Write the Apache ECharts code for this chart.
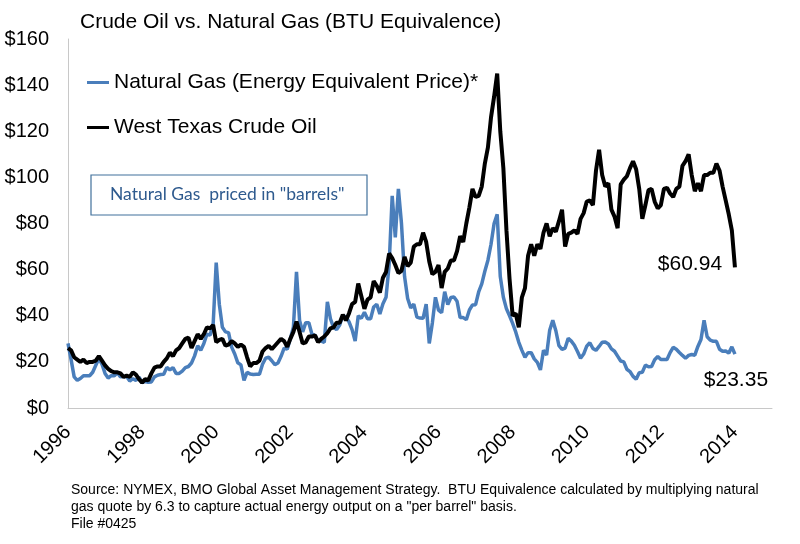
<!DOCTYPE html>
<html>
<head>
<meta charset="utf-8">
<script src="https://cdn.jsdelivr.net/npm/echarts@6/dist/echarts.min.js"></script>
<style>
html,body{margin:0;padding:0;background:#ffffff;}
#chart{width:800px;height:544px;}
</style>
</head>
<body>
<div id="chart"></div>
<script>
// Monthly values, index 0 = Dec 1996, then Jan 1997 ... Dec 2014
var wti = [26,
25, 22, 21, 20, 21, 19.5, 20, 20, 20.5, 22.5, 20.5, 18.5,
17, 16, 15.5, 15.5, 15, 13.5, 14, 13.5, 15.5, 14.5, 12.5, 11,
12.5, 12, 15, 17.5, 18, 18, 20, 21.5, 24, 22.5, 25, 26,
28, 30, 30.5, 26, 29, 32, 30, 32, 35, 34.5, 36, 28.5,
29.5, 30, 27, 27.5, 29, 28, 26.5, 27.5, 26.5, 22, 18, 19.5,
19.5, 20.5, 24.5, 26, 27, 25.5, 27, 28.5, 30, 29, 26.5, 30,
33, 37.5, 33, 28, 28.5, 31, 31, 31.5, 28.5, 30, 31, 32.5,
34.5, 35, 37, 37, 40.5, 38, 41, 45, 46, 54, 48.5, 43,
47, 48, 55, 53, 50, 56.5, 59, 67, 65, 62, 58.5, 59.5,
65.5, 61.5, 63, 70, 71, 71, 76, 72, 63.5, 58, 59, 62,
52, 59, 60.5, 64, 64, 68, 74.5, 72, 80, 87, 95, 91.5,
92, 96, 106, 113, 126, 135, 145, 120, 104, 77, 56, 40,
41, 35, 48, 52, 66, 71, 66, 71, 69, 76, 80, 74.5,
78, 76.5, 81, 86, 70, 75.5, 76, 77, 75.5, 82, 84.5, 89.5,
90, 88, 103, 112, 101, 96, 97.5, 86, 83, 78, 97, 99,
100.5, 104, 107, 103.5, 95, 82, 88, 94.5, 95, 89.5, 86.5, 88,
95, 95.5, 93, 91.5, 95, 96, 105, 107, 110, 101, 94, 97.5,
94, 101, 101, 102, 102, 106, 103, 96, 90, 84, 77, 60.94];

var gas = [28,
21, 13.5, 12, 12.8, 14, 14, 14, 15.5, 18.5, 21.5, 19, 15,
13, 14, 14, 15.3, 13.5, 13.7, 13.7, 11.7, 12.7, 12, 13.4, 11,
11.5, 11.2, 11.3, 13.5, 14.2, 14.5, 14.6, 17.6, 16.5, 17.5, 15, 15,
16, 17.5, 18, 19.5, 22.6, 27, 25, 28, 32, 31.6, 36, 63,
45, 35, 33, 32.7, 26.4, 23.4, 19.6, 18.7, 12, 15.5, 14.7, 14.5,
14.6, 14.6, 19, 21.6, 22, 20.5, 18.8, 19.5, 22.4, 26, 25.5, 30,
35, 59, 38, 33, 37, 37, 32, 31.5, 29, 29, 28.5, 46,
38.7, 35, 34, 36, 40, 39.5, 37.4, 34, 29, 40, 38.9, 41.5,
38.7, 38.7, 43.8, 45, 40.8, 45.2, 48, 62, 92, 74, 95, 80,
57, 47.5, 43.4, 45, 39.4, 39, 38.9, 45, 28, 36.9, 48, 42.4,
41.3, 50.4, 44.8, 47.9, 48.1, 46.3, 39.2, 39.2, 38.3, 42.5, 44.7, 44.8,
50.3, 53.8, 59.3, 64.1, 71, 80, 84, 57, 48, 43, 40, 36.7,
33, 28.5, 25, 22, 24, 24, 21.3, 19.8, 16.5, 25, 23, 33.7,
38, 33.5, 27, 25.4, 26, 30.2, 29, 27.2, 24.5, 21.6, 23.4, 26.8,
28.3, 25.8, 25, 26.7, 28.5, 28.6, 27.8, 25.6, 24.6, 22.5, 20.4, 20,
16.8, 15.8, 13.7, 12.5, 15.3, 15.5, 18.6, 17.9, 18, 20.9, 22.3, 21,
21, 21, 24, 26.3, 25.5, 24.1, 22.8, 21.6, 22.8, 23.2, 22.9, 26.7,
29.7, 38, 30.9, 29.4, 28.9, 28.9, 25.5, 24.6, 24.7, 23.8, 26.5, 23.35];

var yearLabels = ['1996','1998','2000','2002','2004','2006','2008','2010','2012','2014'];
var yTicks = [0, 20, 40, 60, 80, 100, 120, 140, 160];
var seriesNames = ['Natural Gas (Energy Equivalent Price)*', 'West Texas Crude Oil'];
var titleText = 'Crude Oil vs. Natural Gas (BTU Equivalence)';
var noteText = 'Natural Gas  priced in "barrels"';
var sourceLines = [
  'Source: NYMEX, BMO Global Asset Management Strategy.  BTU Equivalence calculated by multiplying natural',
  'gas quote by 6.3 to capture actual energy output on a "per barrel" basis.',
  'File #0425'
];

var FONT = 'Liberation Sans, Arial, sans-serif';
function pairs(arr){ return arr.map(function(v,i){ return [i, v]; }); }
var lastIdx = wti.length - 1;

var chart = echarts.init(document.getElementById('chart'), null, {renderer:'canvas'});
chart.setOption({
  animation: false,
  backgroundColor: '#ffffff',
  title: {
    text: titleText, left: 75, top: 7,
    textStyle: {fontFamily: FONT, fontSize: 21, fontWeight: 'normal', color: '#000'}
  },
  legend: {
    orient: 'vertical', left: 82, top: 67, itemGap: 24,
    icon: 'rect', itemWidth: 22, itemHeight: 3,
    textStyle: {fontFamily: FONT, fontSize: 21, color: '#000'},
    data: seriesNames
  },
  grid: {left: 68, right: 28, top: 39, bottom: 136, containLabel: false},
  xAxis: {
    type: 'value', min: 0, max: 228, interval: 24,
    axisLine: {show: true, lineStyle: {color: '#c8c8c8', width: 1}},
    axisTick: {show: false},
    splitLine: {show: false},
    axisLabel: {
      rotate: 45, margin: 21, fontFamily: FONT, fontSize: 20, color: '#000',
      formatter: function(v){ var k = v / 24; return (k === Math.round(k) && yearLabels[k]) ? yearLabels[k] : ''; }
    }
  },
  yAxis: {
    type: 'value', min: yTicks[0], max: yTicks[yTicks.length-1], interval: 20,
    axisLine: {show: true, lineStyle: {color: '#c8c8c8', width: 1}},
    axisTick: {show: false},
    splitLine: {show: false},
    axisLabel: {margin: 19, fontFamily: FONT, fontSize: 20, color: '#000',
      formatter: function(v){ return '$' + v; }}
  },
  series: [
    {
      name: seriesNames[0], type: 'line', showSymbol: false, symbol: 'none',
      data: pairs(gas), color: '#4a7ebb',
      lineStyle: {color: '#4a7ebb', width: 3.5},
      markPoint: {
        symbol: 'circle', symbolSize: 0,
        label: {show: true, position: 'inside', offset: [1, 26], fontFamily: FONT, fontSize: 21, color: '#000',
          formatter: function(p){ return '$' + p.value.toFixed(2); }},
        data: [{coord: [lastIdx, gas[lastIdx]], value: gas[lastIdx]}]
      }
    },
    {
      name: seriesNames[1], type: 'line', showSymbol: false, symbol: 'none',
      data: pairs(wti), color: '#000000',
      lineStyle: {color: '#000000', width: 4},
      markPoint: {
        symbol: 'circle', symbolSize: 0,
        label: {show: true, position: 'inside', offset: [-45, -3], fontFamily: FONT, fontSize: 21, color: '#000',
          formatter: function(p){ return '$' + p.value.toFixed(2); }},
        data: [{coord: [lastIdx, wti[lastIdx]], value: wti[lastIdx]}]
      }
    }
  ],
  graphic: [
    {type: 'rect', shape: {x: 91, y: 175, width: 276, height: 40},
     style: {fill: 'rgba(0,0,0,0)', stroke: '#41719c', lineWidth: 1.2}, z: 10},
    {type: 'text', left: 110, top: 185,
     style: {text: noteText, font: '17.5px Lato, "Open Sans", sans-serif', fill: '#2e5a8e'}, z: 10},
    {type: 'text', left: 71, top: 482,
     style: {text: sourceLines.join('\n'), font: '14px ' + FONT, fill: '#000', lineHeight: 17}, z: 10}
  ]
});
</script>
</body>
</html>
